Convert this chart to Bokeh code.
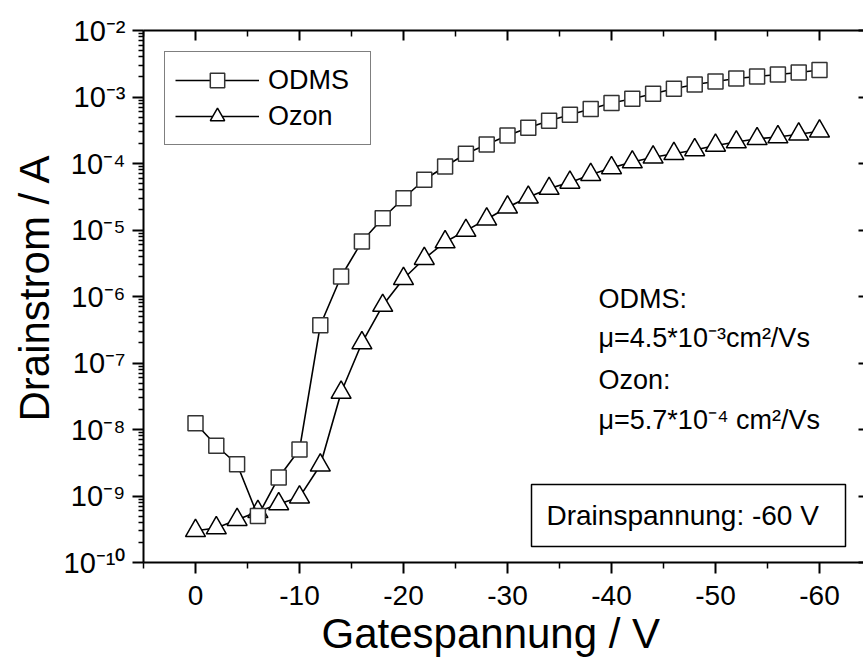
import math
from bokeh.plotting import figure
from bokeh.models import (Range1d, LogAxis, LinearAxis, FixedTicker, Label, Legend, Title,
                          LegendItem, CustomJSTickFormatter, BoxAnnotation)
from bokeh.embed import file_html
from bokeh.resources import INLINE

# ---------------- data ----------------
gate_voltage = [0, -2, -4, -6, -8, -10, -12, -14, -16, -18, -20, -22, -24, -26, -28, -30,
                -32, -34, -36, -38, -40, -42, -44, -46, -48, -50, -52, -54, -56, -58, -60]
odms_current = [1.24e-8, 5.7e-9, 3.0e-9, 5.0e-10, 1.9e-9, 5.0e-9, 3.7e-7, 2.0e-6, 6.7e-6,
                1.5e-5, 3.0e-5, 5.7e-5, 9.0e-5, 1.4e-4, 1.93e-4, 2.64e-4, 3.44e-4, 4.4e-4,
                5.4e-4, 6.6e-4, 8.1e-4, 9.4e-4, 1.12e-3, 1.33e-3, 1.54e-3, 1.71e-3, 1.90e-3,
                2.03e-3, 2.18e-3, 2.33e-3, 2.55e-3]
ozon_current = [3.0e-10, 3.3e-10, 4.4e-10, 5.8e-10, 7.6e-10, 9.6e-10, 2.9e-9, 3.6e-8, 2.0e-7,
                7.3e-7, 1.85e-6, 3.7e-6, 6.6e-6, 9.8e-6, 1.45e-5, 2.2e-5, 3.1e-5, 4.2e-5,
                5.2e-5, 6.8e-5, 8.6e-5, 1.05e-4, 1.24e-4, 1.40e-4, 1.6e-4, 1.87e-4, 2.1e-4,
                2.35e-4, 2.5e-4, 2.75e-4, 3.05e-4]
x_major_ticks = [0, -10, -20, -30, -40, -50, -60]
x_minor_ticks = [5, -5, -15, -25, -35, -45, -55]
y_decades = [-10, -9, -8, -7, -6, -5, -4, -3, -2]

FONT = "Liberation Sans"

y_major = [10.0 ** e for e in y_decades]
y_minor = [m * 10.0 ** e for e in y_decades[:-1] for m in range(2, 10)]

p = figure(width=863, height=666,
           x_range=Range1d(5, -64.23), y_range=Range1d(1e-10, 1e-2),
           y_axis_type="log", output_backend="svg", toolbar_location=None,
           min_border_left=143, min_border_right=0, min_border_top=30, min_border_bottom=104)
p.xgrid.visible = False
p.ygrid.visible = False
p.outline_line_color = None
p.background_fill_color = "white"
p.border_fill_color = "white"

sup = CustomJSTickFormatter(code="""
const e = Math.round(Math.log10(tick));
const s = {'-': '\u207b', '0': '\u2070', '1': '\u00b9', '2': '\u00b2', '3': '\u00b3',
           '4': '\u2074', '5': '\u2075', '6': '\u2076', '7': '\u2077', '8': '\u2078', '9': '\u2079'};
return '10' + String(e).split('').map(c => s[c]).join('');
""")
plain = CustomJSTickFormatter(code="return String(tick);")
blank = CustomJSTickFormatter(code="return '';")

# left axis
ya = p.yaxis[0]
ya.ticker = FixedTicker(ticks=y_major, minor_ticks=y_minor)
ya.formatter = sup
ya.axis_line_width = 2
ya.major_tick_line_width = 2
ya.minor_tick_line_width = 1.5
ya.major_tick_out = 11
ya.major_tick_in = 0
ya.minor_tick_out = 5
ya.minor_tick_in = 0
ya.major_label_standoff = 7
ya.major_label_text_font = FONT
ya.major_label_text_font_size = "29px"
ya.major_label_text_color = "black"

# bottom axis
xa = p.xaxis[0]
xa.ticker = FixedTicker(ticks=x_major_ticks, minor_ticks=x_minor_ticks)
xa.formatter = plain
xa.axis_line_width = 2
xa.major_tick_line_width = 2
xa.minor_tick_line_width = 1.5
xa.major_tick_out = 11
xa.major_tick_in = 0
xa.minor_tick_out = 6
xa.minor_tick_in = 0
xa.major_label_standoff = 12
xa.major_label_text_font = FONT
xa.major_label_text_font_size = "28px"
xa.major_label_text_color = "black"

# top axis (ticks only)
top = LinearAxis(ticker=FixedTicker(ticks=x_major_ticks, minor_ticks=x_minor_ticks),
                 formatter=blank, major_label_standoff=0,
                 major_tick_in=10, major_tick_out=0, minor_tick_in=6, minor_tick_out=0,
                 axis_line_width=2, major_tick_line_width=2, minor_tick_line_width=1.5)
p.add_layout(top, "above")

# right axis (ticks only, spine outside the picture)
right = LogAxis(ticker=FixedTicker(ticks=y_major, minor_ticks=[]),
                formatter=blank, major_label_standoff=0,
                major_tick_in=5, major_tick_out=0, minor_tick_in=0, minor_tick_out=0,
                axis_line_color=None, major_tick_line_width=2)
p.add_layout(right, "right")

# axis titles
p.add_layout(Title(text="Gatespannung / V", align="left", offset=178, standoff=0,
                   text_font=FONT, text_font_size="42px", text_font_style="normal",
                   text_color="black"), "below")
p.add_layout(Title(text="Drainstrom / A", align="left", offset=141, standoff=6,
                   text_font=FONT, text_font_size="42px", text_font_style="normal",
                   text_color="black"), "left")

# frame-relative screen positions (origin at frame bottom-left)
def lab(text, x, y, size, align="left"):
    p.add_layout(Label(x=x, y=y, x_units="screen", y_units="screen", text=text,
                       text_font=FONT, text_font_size=size, text_color="black",
                       text_align=align, text_baseline="middle"))

FB = 562  # page y of the frame bottom, used to convert measured text centres
lab("ODMS:", 455, FB - 298, "27px")
lab("\u03bc=4.5*10\u207b\u00b3cm\u00b2/Vs", 455, FB - 337, "27px")
lab("Ozon:", 455, FB - 379, "27px")
lab("\u03bc=5.7*10\u207b\u2074 cm\u00b2/Vs", 455, FB - 419, "27px")

p.add_layout(BoxAnnotation(left=388, right=702, bottom=FB - 546, top=FB - 484,
                           left_units="screen", right_units="screen",
                           bottom_units="screen", top_units="screen",
                           fill_color="white", fill_alpha=1.0,
                           line_color="black", line_alpha=1.0, line_width=1.5))
lab("Drainspannung: -60 V", 403, FB - 514.5, "28px")

# data
l_oz = p.line(gate_voltage, ozon_current, line_color="black", line_width=1.6)
s_oz = p.scatter(gate_voltage, ozon_current, marker="triangle", size=20,
                 fill_color="white", line_color="black", line_width=1.5)
l_od = p.line(gate_voltage, odms_current, line_color="black", line_width=1.6)
s_od = p.scatter(gate_voltage, odms_current, marker="square", size=15,
                 fill_color="white", line_color="#333333", line_width=1.5)

legend = Legend(items=[LegendItem(label="ODMS", renderers=[l_od, s_od]),
                       LegendItem(label="Ozon", renderers=[l_oz, s_oz])],
                location="top_left")
legend.margin = 21
legend.padding = 10
legend.spacing = 0
legend.glyph_width = 84
legend.glyph_height = 36
legend.label_height = 36
legend.label_width = 92
legend.label_standoff = 9
legend.label_text_font = FONT
legend.label_text_font_size = "27px"
legend.label_text_color = "black"
legend.border_line_color = "black"
legend.border_line_width = 1.5
p.add_layout(legend)

open("out.html", "w").write(file_html(p, INLINE))
